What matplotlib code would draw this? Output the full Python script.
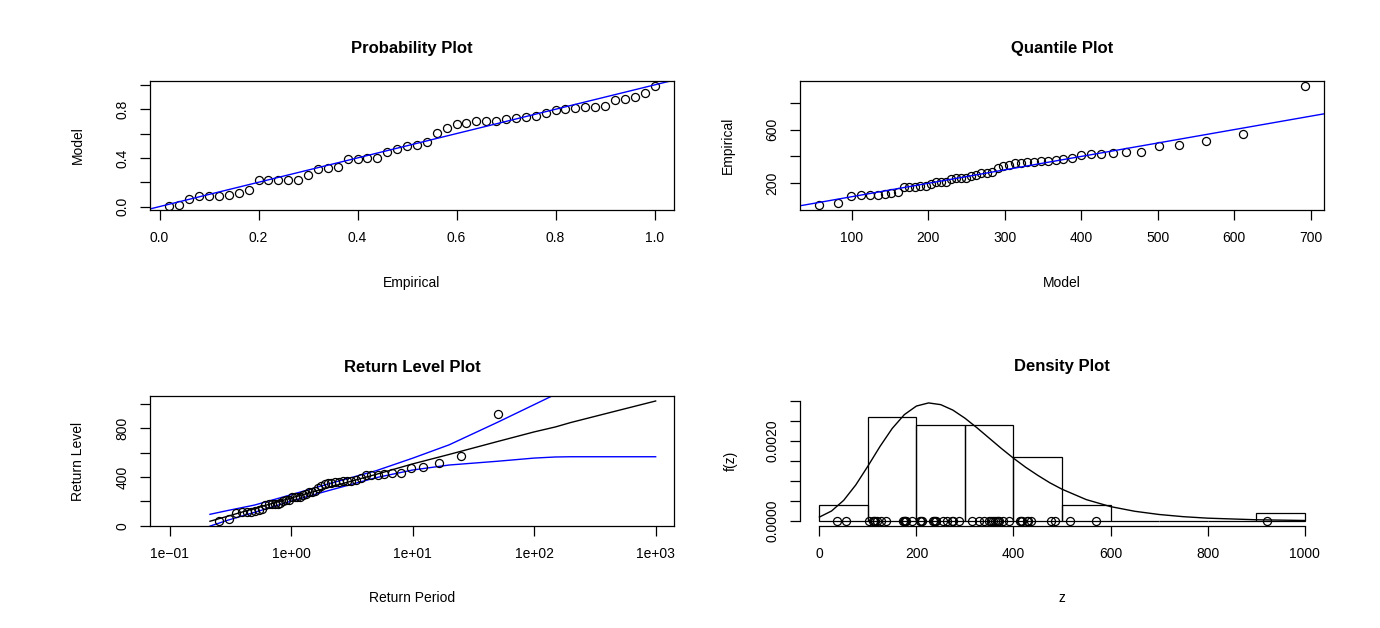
import matplotlib
matplotlib.use("Agg")
import matplotlib.pyplot as plt

plt.rcParams['font.family'] = ['Liberation Sans', 'DejaVu Sans']
plt.rcParams['font.size'] = 10

W, H = 1380, 628

# ---------------- data ----------------
# sorted annual maxima
sorted_z = [36, 55, 102, 111, 113, 115, 118, 126, 138, 172,
            175, 176, 177, 179, 191, 207, 210, 212, 234, 237,
            238, 240, 255, 264, 274, 276, 287, 314, 329, 339,
            349, 354, 358, 361, 366, 369, 371, 378, 391, 413,
            416, 418, 428, 430, 436, 478, 485, 517, 570, 922]

# probability plot: empirical vs model probabilities
prob_empirical = [0.02, 0.04, 0.06, 0.08, 0.10, 0.12, 0.14, 0.16, 0.18, 0.20,
                  0.22, 0.24, 0.26, 0.28, 0.30, 0.32, 0.34, 0.36, 0.38, 0.40,
                  0.42, 0.44, 0.46, 0.48, 0.50, 0.52, 0.54, 0.56, 0.58, 0.60,
                  0.62, 0.64, 0.66, 0.68, 0.70, 0.72, 0.74, 0.76, 0.78, 0.80,
                  0.82, 0.84, 0.86, 0.88, 0.90, 0.92, 0.94, 0.96, 0.98, 1.00]
prob_model = [0.008, 0.016, 0.063, 0.088, 0.088, 0.088, 0.093, 0.110, 0.134, 0.219,
              0.219, 0.219, 0.220, 0.221, 0.260, 0.307, 0.315, 0.323, 0.392, 0.395,
              0.400, 0.401, 0.452, 0.471, 0.499, 0.507, 0.534, 0.603, 0.649, 0.677,
              0.690, 0.704, 0.705, 0.707, 0.721, 0.726, 0.733, 0.745, 0.766, 0.795,
              0.800, 0.808, 0.817, 0.822, 0.827, 0.877, 0.882, 0.904, 0.937, 0.992]

# quantile plot: model quantiles matched to sorted_z
quant_model = [57.7, 82.6, 98.7, 111.8, 124.0, 134.0, 143.6, 151.9, 160.1, 168.0,
               175.4, 182.8, 189.8, 196.7, 203.3, 210.2, 216.3, 222.9, 229.8, 236.4,
               242.5, 249.0, 255.6, 262.5, 269.5, 276.5, 283.4, 290.8, 298.3, 306.1,
               313.5, 321.4, 329.6, 338.3, 347.1, 356.6, 366.7, 376.7, 388.0, 400.2,
               412.9, 426.4, 441.2, 459.0, 478.2, 501.3, 528.3, 563.2, 611.5, 692.6]

# return level plot: empirical return periods of sorted_z
return_period = [0.2543, 0.3088, 0.3530, 0.3929, 0.4306, 0.4673, 0.5035, 0.5398, 0.5765, 0.6138,
                 0.6519, 0.6911, 0.7316, 0.7735, 0.8171, 0.8627, 0.9102, 0.9602, 1.0128, 1.0683,
                 1.1270, 1.1894, 1.2558, 1.3266, 1.4027, 1.4843, 1.5723, 1.6678, 1.7715, 1.8846,
                 2.0088, 2.1455, 2.2973, 2.4663, 2.6560, 2.8711, 3.1162, 3.3990, 3.7274, 4.1168,
                 4.5817, 5.1505, 5.8616, 6.7741, 7.9893, 9.6926, 12.2431, 16.4955, 24.9950, 50.4967]

# fitted return level curve and confidence band
rl_grid = [0.215, 0.3, 0.5, 1, 2, 5, 10, 20, 50, 100, 150, 200, 500, 1000]
rl_level = [37, 78, 142, 228, 313, 422, 508, 586, 692, 771, 812, 848, 949, 1025]
rl_lower = [-3, 45, 110, 202, 287, 395, 458, 499, 530, 556, 565, 567, 567, 567]
rl_upper = [94, 125, 170, 255, 342, 452, 555, 665, 850, 995, 1080, 1150, 1400, 1600]

# fitted density curve
dens_z = [0, 25, 50, 75, 100, 125, 150, 175, 200, 225, 250, 275, 300, 325, 350,
          375, 400, 425, 450, 475, 500, 550, 600, 650, 700, 750, 800, 900, 1000]
dens_f = [0.000098, 0.000250, 0.000516, 0.000902, 0.001373, 0.001866, 0.002313,
          0.002659, 0.002874, 0.002952, 0.002909, 0.002773, 0.002570, 0.002328,
          0.002071, 0.001814, 0.001570, 0.001344, 0.001142, 0.000955, 0.000795,
          0.000535, 0.000360, 0.000243, 0.000163, 0.000108, 0.000071, 0.000031,
          0.000013]

hist_breaks = [0, 100, 200, 300, 400, 500, 600, 700, 800, 900, 1000]

# ---------------- figure ----------------
fig = plt.figure(figsize=(W / 100, H / 100), dpi=100)


def px_axes(left, top, right, bottom):
    return fig.add_axes([left / W, 1 - bottom / H, (right - left) / W, (bottom - top) / H])


def ftext(x, y, s, **kw):
    fig.text(x / W, 1 - y / H, s, ha='center', va='center', **kw)


def style(ax):
    for s in ax.spines.values():
        s.set_linewidth(0.9)
        s.set_color('black')
    ax.tick_params(direction='out', length=7, width=0.9, pad=8, labelsize=10, colors='black')
    ax.tick_params(axis='y', labelrotation=90)
    ax.minorticks_off()


def set_yticks(ax, ticks, labels):
    ax.set_yticks(ticks)
    ax.set_yticklabels(labels)
    for lbl in ax.get_yticklabels():
        lbl.set_va('center')


pt_kw = dict(ls='none', marker='o', mfc='none', mec='black', ms=5.8, mew=0.9)

# Probability plot
ax1 = px_axes(150, 81, 674, 210)
ax1.plot(prob_empirical, prob_model, **pt_kw)
ax1.axline((0, 0), slope=1, color='blue', lw=1.0)
ax1.set_xlim(-0.0192, 1.0392)
ax1.set_ylim(-0.028, 1.032)
ax1.set_xticks([0, 0.2, 0.4, 0.6, 0.8, 1.0])
ax1.set_xticklabels(['0.0', '0.2', '0.4', '0.6', '0.8', '1.0'])
set_yticks(ax1, [0, 0.2, 0.4, 0.6, 0.8, 1.0], ['0.0', '', '0.4', '', '0.8', ''])
style(ax1)

# Quantile plot
ax2 = px_axes(800, 81, 1324, 210)
ax2.plot(quant_model, sorted_z, **pt_kw)
ax2.axline((0, 0), slope=1, color='blue', lw=1.0)
ax2.set_xlim(32.4, 717.4)
ax2.set_ylim(1, 962)
ax2.set_xticks([100, 200, 300, 400, 500, 600, 700])
set_yticks(ax2, [200, 400, 600, 800], ['200', '', '600', ''])
style(ax2)

# Return level plot
ax3 = px_axes(150, 396, 674, 526)
ax3.set_xscale('log')
ax3.plot(rl_grid, rl_level, color='black', lw=1.0)
ax3.plot(rl_grid, rl_lower, color='blue', lw=1.0)
ax3.plot(rl_grid, rl_upper, color='blue', lw=1.0)
ax3.plot(return_period, sorted_z, **pt_kw)
ax3.set_xlim(10 ** -1.161, 10 ** 3.151)
ax3.set_ylim(-2, 1066)
ax3.set_xticks([0.1, 1, 10, 100, 1000])
ax3.set_xticklabels(['1e\u221201', '1e+00', '1e+01', '1e+02', '1e+03'])
set_yticks(ax3, [0, 200, 400, 600, 800, 1000], ['0', '', '400', '', '800', ''])
style(ax3)

# Density plot
ax4 = px_axes(800, 396, 1324, 526)
ax4.hist(sorted_z, bins=hist_breaks, density=True, fill=False,
         edgecolor='black', linewidth=0.9)
ax4.plot(dens_z, dens_f, color='black', lw=1.0)
ax4.plot(sorted_z, [0] * len(sorted_z), **pt_kw)
ax4.set_xlim(-40, 1040)
ax4.set_ylim(-0.000125, 0.003125)
ax4.set_xticks([0, 200, 400, 600, 800, 1000])
set_yticks(ax4, [0, 0.0005, 0.001, 0.0015, 0.002, 0.0025, 0.003],
           ['0.0000', '', '', '', '0.0020', '', ''])
style(ax4)
ax4.spines['top'].set_visible(False)
ax4.spines['right'].set_visible(False)
ax4.spines['left'].set_bounds(0, 0.003)
ax4.spines['bottom'].set_bounds(0, 1000)

# Titles and axis labels
ftext(412, 49, 'Probability Plot', fontsize=12, fontweight='bold')
ftext(1062, 49, 'Quantile Plot', fontsize=12, fontweight='bold')
ftext(412, 367, 'Return Level Plot', fontsize=12, fontweight='bold')
ftext(1062, 367, 'Density Plot', fontsize=12, fontweight='bold')

ftext(412, 283, 'Empirical')
ftext(1062, 283, 'Model')
ftext(412, 598, 'Return Period')
ftext(1062, 598, 'z')

ftext(78, 145.5, 'Model', rotation=90)
ftext(728, 145.5, 'Empirical', rotation=90)
ftext(78, 461, 'Return Level', rotation=90)
ftext(731, 461, 'f(z)', rotation=90)

fig.savefig('out.png', dpi=100)
